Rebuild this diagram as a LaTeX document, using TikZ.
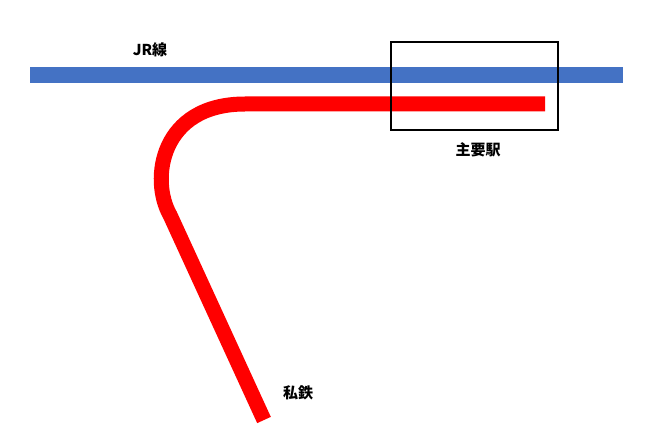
\documentclass[tikz,border=0pt]{standalone}
\usepackage{fontspec}
\newfontfamily\cjk{Noto Sans CJK JP}
\tikzset{lbl/.style={font=\cjk\bfseries\fontsize{15}{18}\selectfont}}
\begin{document}
\begin{tikzpicture}[x=1pt,y=-1pt]
            \useasboundingbox (0,0) rectangle (653,438);
            % Lines
            \draw[line width=16pt, color={rgb,255:red,68;green,114;blue,196}] (30,75) -- (623,75);
            \draw[line width=15pt, red] (545,104) -- (245,104)
                .. controls (160,104) and (150,180) .. (170,215) -- (264,420);
            \draw[line width=2pt] (391,42) rectangle (558,130);
            
            % Labels
            \node[lbl] (jr) at (150,50) {JR線};
            \node[lbl] (eki) at (478,150) {主要駅};
            \node[lbl] (shitetsu) at (298,393) {私鉄};
        \end{tikzpicture}
\end{document}
